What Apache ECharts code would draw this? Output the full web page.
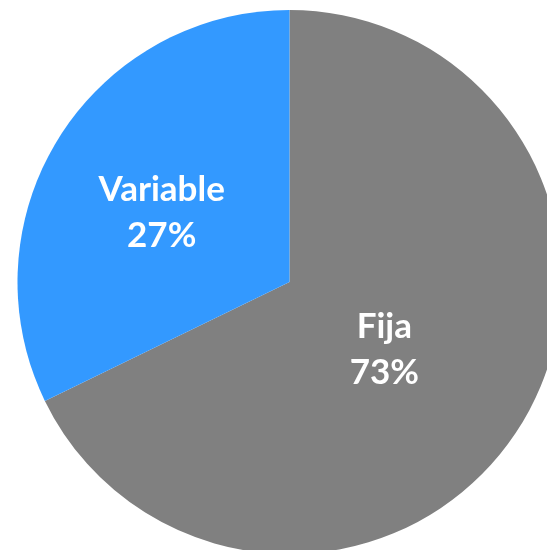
<!DOCTYPE html>
<html>
<head>
<meta charset="utf-8">
<script src="https://cdn.jsdelivr.net/npm/echarts@6/dist/echarts.min.js"></script>
<style>html,body{margin:0;padding:0;background:#fff;}#c{width:547px;height:550px;}</style>
</head>
<body>
<div id="c"></div>
<script>
var categories = ['Fija', 'Variable'];
var values = [67.8, 32.2];
var percentLabels = ['73%', '27%'];
var colors = ['#808080', '#3399ff'];
var labelPads = [[0, 46, 0, 0], [0, 20, 0, 0]];

var chart = echarts.init(document.getElementById('c'), null, {renderer: 'canvas'});
chart.setOption({
  animation: false,
  series: [{
    type: 'pie',
    center: [289.5, 282],
    radius: 272,
    startAngle: 90,
    clockwise: true,
    avoidLabelOverlap: false,
    labelLine: {show: false},
    itemStyle: {borderWidth: 0},
    label: {
      show: true,
      position: 'inside',
      color: '#ffffff',
      fontFamily: 'Lato',
      fontWeight: 'bold',
      fontSize: 35,
      lineHeight: 46,
      formatter: function (p) {
        var t = '{t|' + p.name + '}\n{t|' + percentLabels[p.dataIndex] + '}';
        return p.dataIndex === 0 ? t + '\n{up| }' : '{down| }\n' + t;
      },
      rich: {
        t: {color: '#ffffff', fontFamily: 'Lato', fontWeight: 'bold', fontSize: 35, lineHeight: 46},
        up: {fontSize: 8, lineHeight: 12},
        down: {fontSize: 6, lineHeight: 8}
      }
    },
    emphasis: {disabled: true},
    data: categories.map(function (c, i) {
      return {name: c, value: values[i], itemStyle: {color: colors[i]}, label: {padding: labelPads[i]}};
    })
  }]
});
</script>
</body>
</html>
